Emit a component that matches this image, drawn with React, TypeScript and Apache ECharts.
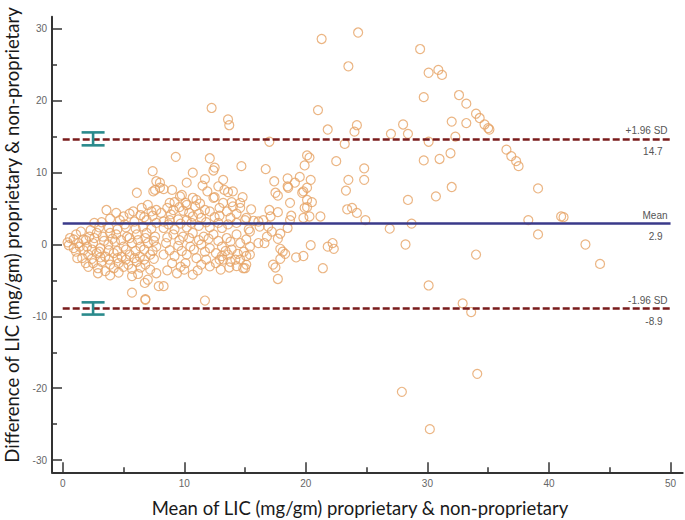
import React, { useEffect, useRef } from "react";
import * as echarts from "echarts";

// ---- axis ticks ----
const xMajorTicks = [0, 10, 20, 30, 40, 50];
const xMinorTicks = [5, 15, 25, 35, 45];
const yMajorTicks = [-30, -20, -10, 0, 10, 20, 30];
const yMinorTicks = [-25, -15, -5, 5, 15, 25];

// ---- Bland-Altman statistics ----
const meanDiff = 2.9;
const upperLoA = 14.7;
const lowerLoA = -8.9;
const upperLoACI: [number, number] = [13.8, 15.6];
const lowerLoACI: [number, number] = [-9.75, -8.05];
const ciX = 2.5;

// ---- points: [mean, difference] ----
const denseLeft: [number, number][] = [
  [7.4, 10.2], [6.1, 7.2], [7.6, 7.6], [7.7, 8.8], [3.6, 4.8], [5.5, 4.3], [6.5, 5.1], [7.0, 5.5],
  [7.3, 4.6], [6.4, 4.1], [7.7, 4.8], [3.2, 3.1], [4.7, 3.4], [5.1, 2.8], [5.9, 3.2], [6.9, 3.4],
  [7.7, 3.0], [0.9, 0.7], [1.3, 0.2], [0.6, 0.9], [1.1, 1.4], [1.4, -0.3], [0.9, -0.5], [1.7, 0.7],
  [2.2, 1.1], [2.8, 1.6], [3.3, 1.1], [3.9, 1.6], [4.4, 1.4], [5.3, 1.1], [6.1, 1.4], [6.9, 1.6],
  [7.6, 1.1], [2.0, -0.3], [2.5, 0.2], [3.1, -0.5], [3.75, 0.0], [4.3, 0.4], [5.0, -0.3], [5.7, 0.2],
  [6.4, -0.3], [7.0, 0.2], [7.7, -0.3], [2.1, -1.4], [2.8, -1.2], [3.5, -1.7], [4.2, -1.2], [4.85, -1.7],
  [5.5, -1.4], [6.35, -1.7], [7.2, -1.4], [2.5, -2.6], [3.2, -2.4], [3.9, -2.8], [4.6, -2.6], [5.4, -2.8],
  [6.1, -2.4], [6.8, -2.8], [3.5, -3.7], [4.2, -3.3], [5.0, -3.1], [5.7, -4.4], [7.0, -4.9], [6.75, -5.35],
  [5.7, -6.7], [6.8, -7.6], [7.9, -5.8], [8.0, 7.9], [7.45, 7.4],
  [2.3, 2.0], [3.0, 2.4], [3.8, 2.3], [4.5, 2.1], [5.2, 2.4], [6.0, 2.2], [6.6, 2.5], [7.3, 2.2],
  [1.9, 0.6], [2.6, 0.9], [3.4, 0.5], [4.1, 0.8], [4.8, 0.6], [5.5, 0.9], [6.2, 0.6], [6.8, 0.9], [7.5, 0.5],
  [1.1, -1.0], [1.7, -0.8], [2.4, -0.7], [3.0, -1.0], [3.8, -0.8], [4.5, -0.9], [5.2, -0.7], [6.0, -0.9],
  [6.7, -0.7], [7.4, -0.9], [1.6, -1.9], [2.4, -2.0], [3.1, -1.8], [3.8, -2.1], [4.5, -1.9], [5.2, -2.1],
  [5.9, -1.9], [6.7, -2.1], [7.5, -2.0], [2.1, -3.1], [2.9, -3.3], [5.7, -3.4], [6.4, -3.2], [7.2, -3.5],
  [5.0, 3.9], [5.8, 4.6], [6.7, 3.8], [7.4, 4.0],
  [2.9, -4.0], [3.9, -4.3], [4.6, -3.9], [6.2, -4.1], [7.7, -4.0], [3.9, 3.6], [4.4, 4.4], [2.6, 3.0],
  [1.5, 1.8], [0.5, -0.1], [1.2, -1.9], [1.9, -2.6], [0.4, 0.3],
];

const denseMid: [number, number][] = [
  [9.3, 12.2], [12.1, 12.0], [12.4, 10.3], [12.5, 10.7], [14.7, 10.9], [10.7, 10.0], [11.7, 9.1], [13.2, 9.0],
  [12.8, 8.1], [11.9, 7.4], [13.6, 7.3], [9.8, 6.9], [10.7, 6.5], [8.0, 8.6], [8.3, 7.7], [12.5, 6.6],
  [13.9, 5.9], [14.6, 5.1], [9.2, 5.9], [10.1, 5.8], [10.9, 5.3], [11.3, 5.7], [9.1, 4.8], [8.6, 5.1],
  [9.9, 4.7], [12.1, 4.6], [11.7, 4.8], [12.9, 5.1], [13.5, 4.6], [13.8, 3.7], [12.5, 3.8], [11.4, 3.7],
  [10.7, 3.9], [10.2, 3.4], [9.5, 3.5], [8.8, 3.4], [8.3, 3.2], [15.0, 3.4], [14.3, 3.0], [13.1, 2.3],
  [12.1, 2.4], [11.2, 2.6], [10.2, 2.4], [9.2, 2.1], [8.3, 2.3], [15.3, 2.1], [9.1, 1.4], [9.9, 1.1],
  [10.7, 1.6], [11.6, 1.1], [12.4, 1.4], [13.5, 0.9], [14.3, 1.4], [15.1, 0.7], [8.5, 0.2], [9.5, -0.2],
  [10.5, -0.3], [11.4, 0.0], [12.1, -0.5], [13.1, -0.3], [13.9, -0.7], [14.9, -1.0], [8.3, -1.4], [9.2, -1.6],
  [10.2, -1.4], [11.0, -1.9], [11.8, -2.1], [13.1, -1.6], [13.6, -1.4], [14.2, -2.1], [15.1, -1.6], [15.1, -2.8],
  [10.1, -2.6], [11.4, -2.8], [13.2, -2.1], [13.8, -2.4], [14.6, -2.1], [15.0, -3.3], [10.7, -4.2], [8.3, -5.8],
  [13.3, 7.6], [12.4, 6.5], [11.0, 6.2], [9.65, 6.7], [8.8, 5.8], [10.2, 5.5], [14.0, 7.4], [14.6, 5.8],
  [14.0, 5.3], [15.1, 3.7], [12.1, -3.05], [14.85, -3.3], [12.9, -2.1], [11.7, -7.8], [6.8, -7.7],
  [12.25, 19.0], [13.6, 17.4], [13.7, 16.6],
  [8.6, 1.0], [9.6, 0.6], [10.4, 0.9], [11.2, 0.6], [12.0, 0.8], [12.8, 0.5], [13.8, 0.4], [14.6, 0.2],
  [8.8, -0.8], [9.8, -0.9], [10.8, -0.7], [11.7, -1.0], [12.6, -1.2], [13.4, -0.9], [14.4, -1.3],
  [8.7, 2.8], [9.7, 2.9], [10.6, 3.0], [11.8, 3.1], [12.8, 3.0], [13.6, 2.8],
  [8.9, 4.2], [10.4, 4.4], [11.2, 4.3], [12.9, 4.0], [14.3, 4.3],
  [9.0, -2.6], [9.7, -3.1], [12.6, -2.6], [14.3, -3.0],
  [8.6, -3.6], [9.4, -4.0], [10.0, -3.5], [11.1, -3.6], [13.0, -3.5], [13.7, -3.2],
  [8.1, 4.4], [9.6, 5.2], [13.2, 5.8], [14.8, 6.6], [11.5, 8.2], [10.2, 8.6], [9.0, 7.6],
];

const spreadMid: [number, number][] = [
  [17.0, 14.3], [16.7, 10.5], [17.4, 8.8], [18.5, 9.2], [19.5, 9.4], [20.4, 9.0], [20.1, 12.4], [20.3, 12.1],
  [19.9, 11.0], [22.5, 11.6], [24.8, 10.6], [24.8, 9.0], [23.5, 9.0], [23.3, 7.5], [18.5, 8.1], [19.1, 8.6],
  [19.7, 7.2], [20.1, 7.9], [17.5, 7.2], [17.7, 6.8], [23.4, 4.9], [23.8, 5.1], [24.2, 4.4], [24.9, 3.4],
  [21.2, 3.9], [20.4, -0.1], [21.8, -0.3], [22.2, 0.2], [22.3, -0.6], [21.4, -3.3], [19.8, -1.6], [19.2, -1.8],
  [17.7, -4.8], [17.3, -2.8], [17.5, -3.2], [17.9, -2.0], [18.1, -1.0], [18.3, -1.3], [17.9, -0.6], [17.7, 0.8],
  [17.9, 1.5], [18.5, 2.3], [18.7, 3.4], [18.8, 4.0], [19.8, 3.7], [20.3, 3.9], [19.9, 5.1], [20.1, 5.2],
  [20.1, 6.2], [20.5, 5.9], [19.8, 7.4], [18.7, 5.8], [17.0, 4.8], [17.7, 4.5], [17.1, 3.9], [16.5, 3.4],
  [15.7, 3.3], [15.5, 4.9], [16.2, 2.5], [16.9, 2.5], [17.2, 1.8], [16.8, 1.1], [16.1, 0.2], [16.6, 0.2],
  [15.4, -0.3], [15.4, -1.4], [15.4, 1.8], [16.1, 3.2], [18.55, 7.9],
];

const highSpread: [number, number][] = [
  [21.3, 28.6], [24.3, 29.5], [23.5, 24.8], [29.4, 27.2], [30.1, 23.9], [30.9, 24.3], [31.2, 23.6], [29.7, 20.5],
  [32.6, 20.8], [33.2, 19.6], [34.0, 18.2], [34.3, 17.6], [34.7, 16.7], [35.0, 16.2], [35.1, 16.0], [21.0, 18.7],
  [21.8, 16.0], [24.2, 16.6], [24.0, 15.7], [23.2, 14.0], [27.0, 15.4], [28.0, 16.7], [28.4, 15.4], [30.1, 14.3],
  [32.0, 17.1], [33.2, 16.9], [32.3, 15.0], [29.7, 11.7], [31.0, 11.9], [31.9, 12.7], [32.0, 8.0], [36.5, 13.2],
  [36.9, 12.3], [37.3, 11.6], [37.5, 10.9], [39.1, 7.8], [30.7, 6.7], [28.4, 6.2],
  [26.9, 2.2], [28.7, 2.9], [28.2, 0.0], [30.1, -5.7], [32.9, -8.2], [33.6, -9.4], [34.0, -1.4], [38.3, 3.4],
  [39.1, 1.4], [41.0, 3.9], [41.2, 3.8], [43.0, 0.0], [44.2, -2.7],
];

const lowOutliers: [number, number][] = [
  [27.9, -20.5], [30.2, -25.7], [34.1, -18.0],
];

const allPoints = [...denseLeft, ...denseMid, ...spreadMid, ...highSpread, ...lowOutliers];

const ciBars: [number, number, number][] = [
  [ciX, upperLoACI[0], upperLoACI[1]],
  [ciX, lowerLoACI[0], lowerLoACI[1]],
];

const X_MIN = -0.88;
const X_MAX = 51;
const Y_MIN = -31.7;
const Y_MAX = 31.7;
const LINE_START = 0;
const LINE_END = 50;

export default function App() {
  const ref = useRef<HTMLDivElement>(null);
  useEffect(() => {
    if (!ref.current) return;
    const chart = echarts.init(ref.current, null, { renderer: "svg" });
    const axisColor = "#333333";
    const labelStyle = { color: "#666666", fontSize: 10, fontFamily: "Liberation Sans, Arial, sans-serif" };
    const refLine = (value: number, topText: string, bottomText: string, style: any) => [
      [
        { coord: [LINE_START, value], lineStyle: style, label: { show: true, position: "insideEndTop", formatter: topText, distance: 3, ...labelStyle, color: "#555555" } },
        { coord: [LINE_END, value] },
      ],
      [
        { coord: [LINE_START, value], lineStyle: { ...style, color: "rgba(0,0,0,0)" }, label: { show: true, position: "insideEndBottom", formatter: bottomText, distance: 8, ...labelStyle, color: "#555555" } },
        { coord: [LINE_END, value] },
      ],
    ];
    const dashStyle = { color: "#7a1c1c", width: 2.5, type: [7, 3] };
    const meanStyle = { color: "#3a3a8a", width: 2.5, type: "solid" };
    chart.setOption({
      animation: false,
      grid: { left: 52, right: 2.3, top: 16.7, bottom: 47.7, containLabel: false, outerBoundsMode: "none" },
      xAxis: [
        {
          type: "value", min: X_MIN, max: X_MAX, position: "bottom",
          axisLine: { show: true, onZero: false, lineStyle: { color: axisColor, width: 2 } },
          axisTick: { show: true, inside: true, length: 10, customValues: xMajorTicks, lineStyle: { color: axisColor, width: 1.5 } },
          axisLabel: { show: true, customValues: xMajorTicks, margin: 6, ...labelStyle },
          splitLine: { show: false },
        },
        {
          type: "value", min: X_MIN, max: X_MAX, position: "bottom", gridIndex: 0,
          axisLine: { show: false, onZero: false },
          axisTick: { show: true, inside: true, length: 5, customValues: xMinorTicks, lineStyle: { color: axisColor, width: 1.5 } },
          axisLabel: { show: false },
          splitLine: { show: false },
        },
      ],
      yAxis: [
        {
          type: "value", min: Y_MIN, max: Y_MAX, position: "left",
          axisLine: { show: true, onZero: false, lineStyle: { color: axisColor, width: 2 } },
          axisTick: { show: true, inside: true, length: 10, customValues: yMajorTicks, lineStyle: { color: axisColor, width: 1.5 } },
          axisLabel: { show: true, customValues: yMajorTicks, margin: 5, ...labelStyle },
          splitLine: { show: false },
        },
        {
          type: "value", min: Y_MIN, max: Y_MAX, position: "left", gridIndex: 0,
          axisLine: { show: false, onZero: false },
          axisTick: { show: true, inside: true, length: 5, customValues: yMinorTicks, lineStyle: { color: axisColor, width: 1.5 } },
          axisLabel: { show: false },
          splitLine: { show: false },
        },
      ],
      graphic: [
        {
          type: "text", x: 12, y: 235, rotation: Math.PI / 2,
          style: { text: "Difference of LIC (mg/gm) proprietary & non-proprietary", font: "18.5px Lato", fill: "#1a1a1a", textAlign: "center", textVerticalAlign: "middle" },
        },
        {
          type: "text", x: 360, y: 508,
          style: { text: "Mean of LIC (mg/gm) proprietary & non-proprietary", font: "18.5px Lato", fill: "#1a1a1a", textAlign: "center", textVerticalAlign: "middle" },
        },
      ],
      series: [
        {
          type: "scatter", xAxisIndex: 0, yAxisIndex: 0, data: allPoints, symbol: "circle", symbolSize: 9,
          itemStyle: { color: "rgba(255,255,255,0)", borderColor: "#e6a264", borderWidth: 1.2 },
          z: 2,
        },
        {
          type: "line", xAxisIndex: 0, yAxisIndex: 0, data: [], z: 5, silent: true,
          markLine: {
            silent: true, symbol: ["none", "none"], animation: false,
            data: [
              ...refLine(upperLoA, "+1.96 SD", String(upperLoA), dashStyle),
              ...refLine(meanDiff, "Mean", String(meanDiff), meanStyle),
              ...refLine(lowerLoA, "-1.96 SD", String(lowerLoA), dashStyle),
            ],
          },
        },
        {
          type: "custom", xAxisIndex: 0, yAxisIndex: 0, data: ciBars, z: 6,
          renderItem: (params: any, api: any) => {
            const x = api.value(0);
            const lo = api.coord([x, api.value(1)]);
            const hi = api.coord([x, api.value(2)]);
            const half = 11.5;
            const style = { stroke: "#2a8a8c", lineWidth: 2.6, fill: "none" };
            return {
              type: "group",
              children: [
                { type: "line", shape: { x1: lo[0], y1: lo[1], x2: hi[0], y2: hi[1] }, style },
                { type: "line", shape: { x1: lo[0] - half, y1: lo[1], x2: lo[0] + half, y2: lo[1] }, style },
                { type: "line", shape: { x1: hi[0] - half, y1: hi[1], x2: hi[0] + half, y2: hi[1] }, style },
              ],
            };
          },
        },
      ],
    });
    return () => chart.dispose();
  }, []);
  return <div ref={ref} style={{ position: "absolute", left: 0, top: 0, width: 685, height: 520 }} />;
}
